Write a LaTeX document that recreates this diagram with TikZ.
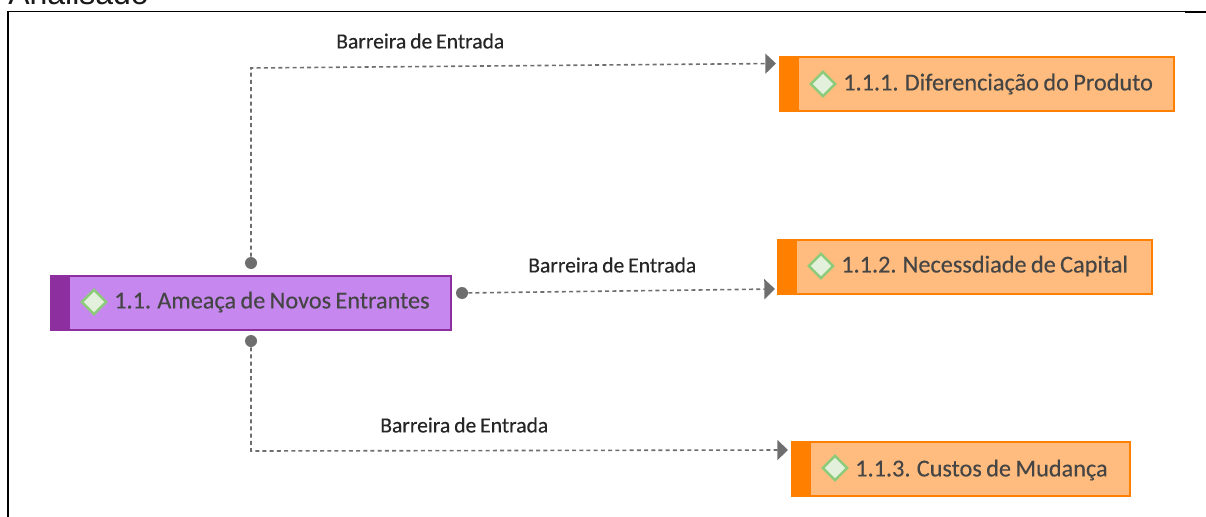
\documentclass[tikz,border=0pt]{standalone}
\usepackage{fontspec}
\setmainfont{Carlito}
\newfontfamily\boxfont{Carlito}[FakeBold=0.25,WordSpace=0.8]
\newfontfamily\hdfont{Liberation Sans}
\usetikzlibrary{arrows.meta,shapes.geometric}
\definecolor{purpfill}{HTML}{C688EE}
\definecolor{purpdark}{HTML}{8E2FA0}
\definecolor{orfill}{HTML}{FFBC7E}
\definecolor{ordark}{HTML}{FF7F00}
\definecolor{txt}{HTML}{454545}
\definecolor{conn}{HTML}{6E6E6E}
\definecolor{dfill}{HTML}{E2F0DC}
\definecolor{dline}{HTML}{8CCB7A}
\tikzset{
  x=0.75pt,y=-0.75pt,
  boxnode/.style={draw=#1,line width=1.5pt,minimum height=40.5pt,inner sep=0pt,outer sep=0pt,anchor=north west},
  stripnode/.style={fill=#1,draw=none,inner sep=0pt,outer sep=0pt,minimum width=15pt,minimum height=41.5pt,anchor=north west},
  dia/.style={diamond,fill=dfill,draw=dline,line width=1.8pt,inner sep=0pt,minimum width=19pt,minimum height=19pt},
  boxtext/.style={font=\boxfont\fontsize{18.2}{20}\selectfont,text=txt,anchor=west,inner sep=0pt},
  lbl/.style={font=\boxfont\fontsize{16.2}{18}\selectfont,text=black!85,anchor=west,inner sep=0pt},
  dot/.style={circle,fill=conn,inner sep=0pt,minimum size=9pt},
  conline/.style={draw=conn,line width=1.2pt,dash pattern=on 3pt off 2.4pt},
  arrowed/.style={conline,-{Triangle[length=8pt,width=15pt,fill=conn]}},
}
\begin{document}
\begin{tikzpicture}
\useasboundingbox (0,0) rectangle (1206,517);
\clip (0,0) rectangle (1206,517);
% frame
\node[font=\fontsize{24}{26}\selectfont,anchor=base west,inner sep=0pt,text=black!90] (hd) at (8,5) {\hdfont Analisado};
\coordinate (fa) at (8,517);
\coordinate (fb) at (8,11.5);
\coordinate (fc) at (1206,11.5);
\draw[line width=1.5pt] (fa) -- (fb);
\draw[line width=0.8pt] (fb) -- (fc);
\coordinate (fd) at (7,11.5);\coordinate (fe) at (40,11.5);
\draw[line width=1.2pt] (fd) -- (fe);
\coordinate (ff) at (1185,12);\coordinate (fg) at (1206,12);
\draw[line width=1.4pt] (ff) -- (fg);
% boxes
\node[boxnode=purpdark,fill=purpfill,minimum width=300pt] (main) at (51,276) {};
\node[stripnode=purpdark] (mains) at (50,275) {};
\node[boxnode=ordark,fill=orfill,minimum width=295.5pt] (b1) at (780,57) {};
\node[stripnode=ordark] (b1s) at (779,56) {};
\node[boxnode=ordark,fill=orfill,minimum width=280.5pt] (b2) at (778,239.5) {};
\node[stripnode=ordark] (b2s) at (777,239) {};
\node[boxnode=ordark,fill=orfill,minimum width=253.5pt] (b3) at (792,442) {};
\node[stripnode=ordark] (b3s) at (791,441) {};
% diamonds
\node[dia] (d0) at (94,302) {};
\node[dia] (d1) at (823,84) {};
\node[dia] (d2) at (821,266) {};
\node[dia] (d3) at (835,468) {};
% texts
\node[boxtext] (t0) at (114,302) {1.1. Ameaça de Novos Entrantes};
\node[boxtext] (t1) at (843,84) {1.1.1. Diferenciação do Produto};
\node[boxtext] (t2) at (841,266) {1.1.2. Necessdiade de Capital};
\node[boxtext] (t3) at (855,470) {1.1.3. Custos de Mudança};
% connectors
\node[dot] (p1) at (251,263) {};
\node[dot] (p2) at (462,293) {};
\node[dot] (p3) at (251,341) {};
\coordinate (c1) at (251,68);
\coordinate (c3) at (251,451);
\coordinate (a1) at (776,63.5);
\coordinate (a2) at (775,289);
\coordinate (a3) at (788,450);
\draw[arrowed] (p1) -- (c1) -- (a1);
\draw[arrowed] (p2) -- (a2);
\draw[arrowed] (p3) -- (c3) -- (a3);
% labels
\node[lbl] (l1) at (336,41) {Barreira de Entrada};
\node[lbl] (l2) at (528,265) {Barreira de Entrada};
\node[lbl] (l3) at (380,425) {Barreira de Entrada};
\end{tikzpicture}
\end{document}
